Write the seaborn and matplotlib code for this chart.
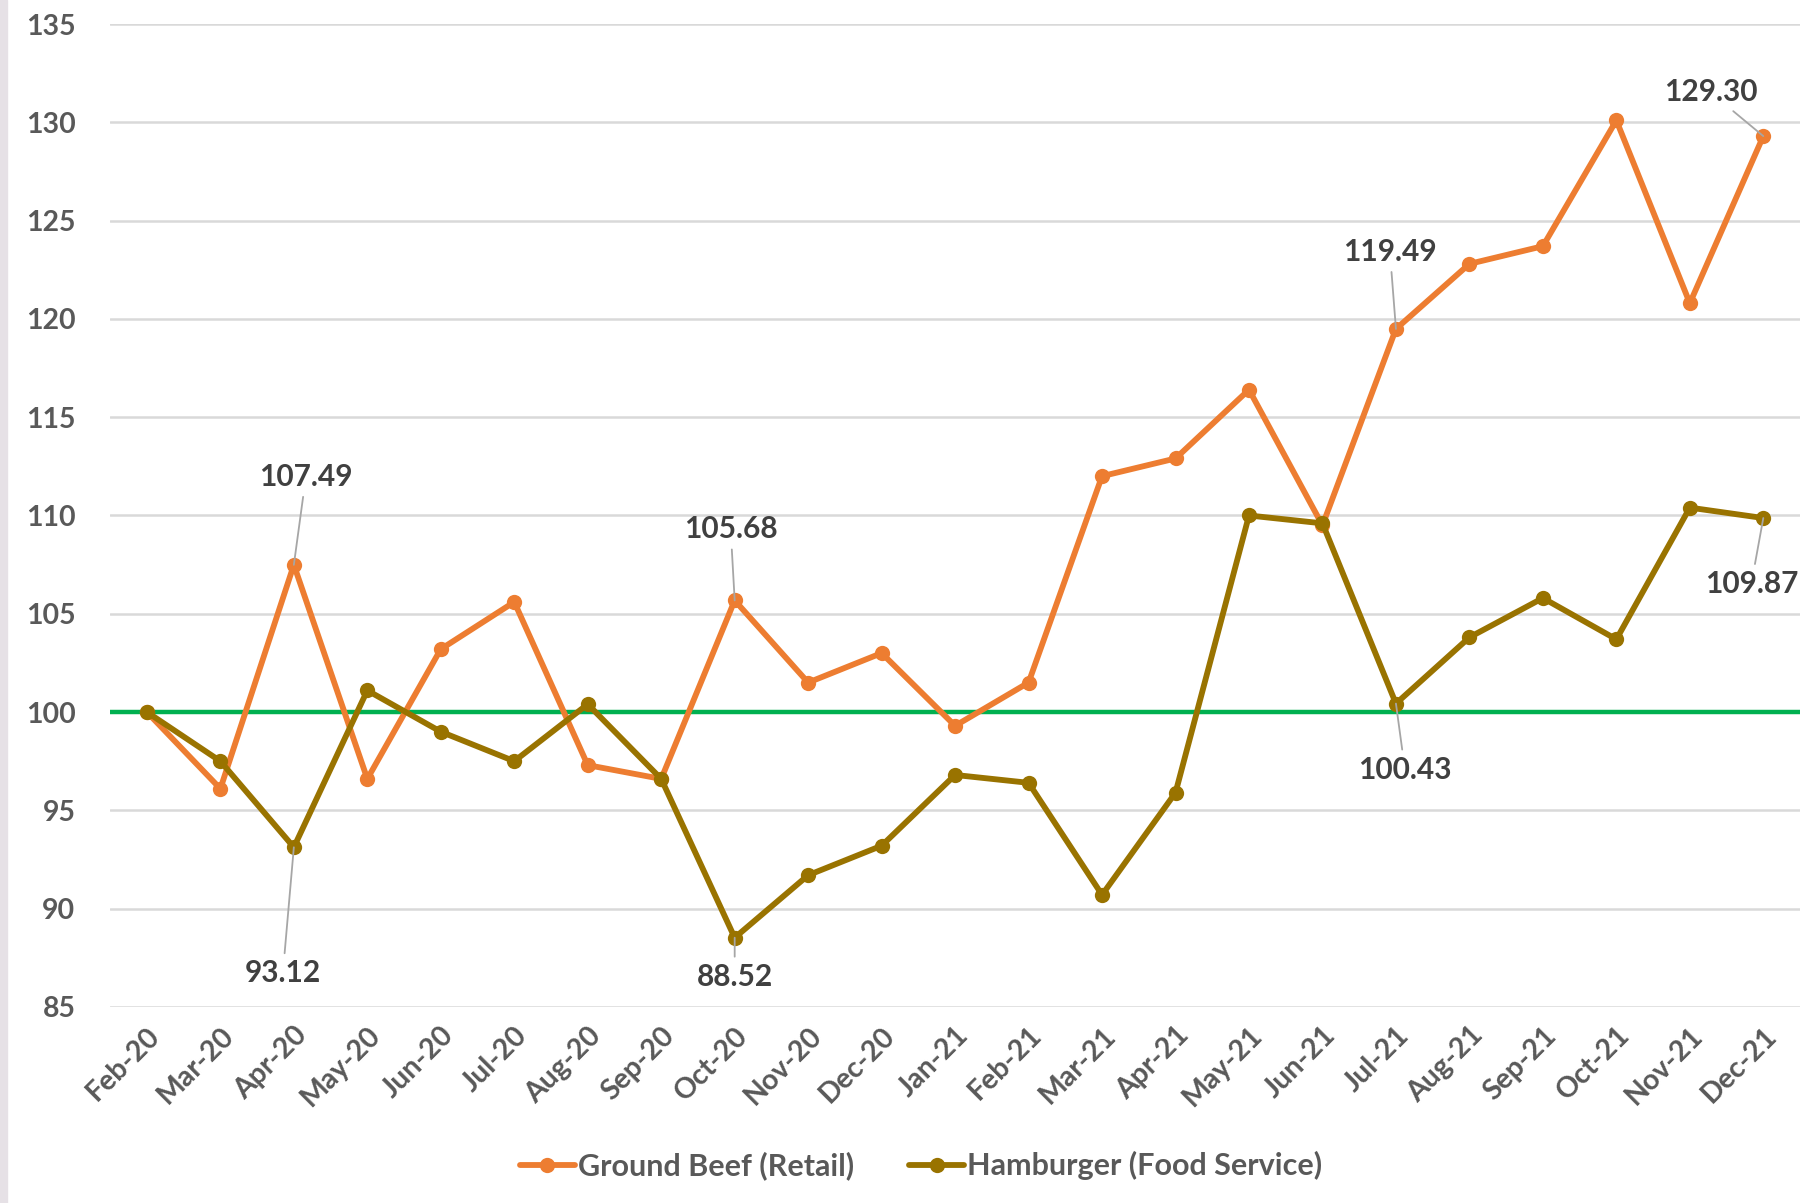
import matplotlib
matplotlib.use('Agg')
import matplotlib.pyplot as plt
import seaborn as sns
import pandas as pd
from matplotlib.patches import Rectangle

months = ['Feb-20', 'Mar-20', 'Apr-20', 'May-20', 'Jun-20', 'Jul-20', 'Aug-20', 'Sep-20',
          'Oct-20', 'Nov-20', 'Dec-20', 'Jan-21', 'Feb-21', 'Mar-21', 'Apr-21', 'May-21',
          'Jun-21', 'Jul-21', 'Aug-21', 'Sep-21', 'Oct-21', 'Nov-21', 'Dec-21']
ground_beef = [100.0, 96.1, 107.49, 96.6, 103.2, 105.6, 97.3, 96.6, 105.68, 101.5, 103.0, 99.3,
               101.5, 112.0, 112.9, 116.4, 109.5, 119.49, 122.8, 123.7, 130.1, 120.8, 129.30]
hamburger = [100.0, 97.5, 93.12, 101.1, 99.0, 97.5, 100.4, 96.6, 88.52, 91.7, 93.2, 96.8,
             96.4, 90.7, 95.9, 110.0, 109.6, 100.43, 103.8, 105.8, 103.7, 110.4, 109.87]
series_names = ['Ground Beef (Retail)', 'Hamburger (Food Service)']
baseline = 100
y_ticks = [85, 90, 95, 100, 105, 110, 115, 120, 125, 130, 135]
# (series, month index, label offset in pixels)
callouts = [
    (0, 2, (12, 88)), (1, 2, (-11, -126)),
    (0, 8, (-4, 71)), (1, 8, (0, -39)),
    (0, 17, (-6, 77)), (1, 17, (9, -66)),
    (0, 22, (-53, 44)), (1, 22, (-12, -66)),
]

sns.set_style('white')
plt.rcParams['font.family'] = ['Lato', 'DejaVu Sans']

df = pd.DataFrame({
    'month': months * 2,
    'value': ground_beef + hamburger,
    'series': [series_names[0]] * len(months) + [series_names[1]] * len(months),
})
colors = {series_names[0]: '#ED7D31', series_names[1]: '#997300'}

fig = plt.figure(figsize=(18.06, 12.03), dpi=100)
ax = fig.add_axes([0.061, 0.163, 0.9357, 0.817])

ax.axhline(baseline, color='#00B050', lw=3.2, zorder=1)
sns.lineplot(data=df, x='month', y='value', hue='series', palette=colors, marker='o',
             markersize=11, markeredgewidth=0, linewidth=4.2, sort=False, ax=ax, zorder=3,
             legend=True)

ax.set_xlim(-0.5, len(months) - 0.5)
ax.set_ylim(85, 135)
ax.set_yticks(y_ticks)
ax.yaxis.grid(True, color='#D9D9D9', lw=1.8, zorder=0)
ax.set_axisbelow(True)
for s in ax.spines.values():
    s.set_visible(False)
ax.set_xlabel('')
ax.set_ylabel('')
ax.tick_params(axis='y', length=0, pad=25, labelsize=20.5, labelcolor='#595959')
ax.tick_params(axis='x', length=0, pad=11, labelsize=20.5, labelcolor='#595959')
for t in ax.get_yticklabels():
    t.set_fontweight('bold')
for t in ax.get_xticklabels():
    t.set_rotation(45)
    t.set_ha('right')
    t.set_rotation_mode('anchor')
    t.set_fontweight('bold')

values = [ground_beef, hamburger]
for si, mi, off in callouts:
    v = values[si][mi]
    ax.annotate(f'{v:.2f}', xy=(mi, v), xytext=off, textcoords='offset pixels',
                ha='center', va='center', fontsize=21.5, fontweight='bold', color='#404040',
                arrowprops=dict(arrowstyle='-', color='#A6A6A6', lw=1.3, shrinkA=2, shrinkB=0),
                zorder=5)

handles, labels = ax.get_legend_handles_labels()
ax.get_legend().remove()
leg = fig.legend(handles, labels, loc='center', bbox_to_anchor=(0.51, 0.031), ncol=2,
                 frameon=False, fontsize=22, handlelength=1.8, columnspacing=1.8,
                 handletextpad=0.1)
for t in leg.get_texts():
    t.set_color('#595959')
    t.set_fontweight('bold')

fig.patches.append(Rectangle((0, 0), 0.004, 1, transform=fig.transFigure,
                             color='#E6E1E6', zorder=0))

fig.savefig('out.png', dpi=100)
